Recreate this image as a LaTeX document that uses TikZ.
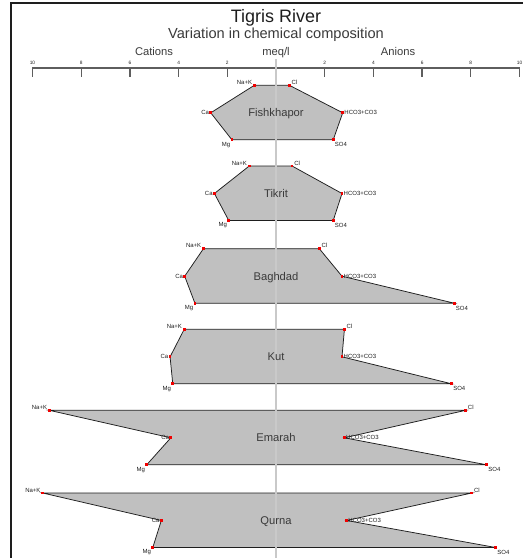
\documentclass[tikz,border=0pt]{standalone}
\usepackage{fontspec}
\setmainfont{Liberation Sans}
\usepackage{tikz}
\usetikzlibrary{calc}
\definecolor{ink}{HTML}{1E1E1E}
\definecolor{ink2}{HTML}{3A3A3A}
\definecolor{axisgray}{HTML}{5E5E5E}
\definecolor{midgray}{HTML}{C9C9C9}
\definecolor{polyfill}{HTML}{C0C0C0}
\definecolor{dotred}{HTML}{F00000}
\tikzset{
  every picture/.style={line width=0.5pt},
  frame/.style={draw=ink,line width=1.3pt},
  axisline/.style={draw=axisgray,line width=1.4pt},
  tickmark/.style={draw=axisgray,line width=1.3pt},
  ticklab/.style={font=\fontsize{4.8}{5}\selectfont,text=ink,inner sep=0pt},
  head/.style={anchor=base,font=\fontsize{11.2}{12}\selectfont,text=ink2,inner sep=0pt},
  midline/.style={draw=midgray,line width=1.2pt},
  poly/.style={draw=ink,fill=polyfill,line width=0.75pt,line join=miter},
  vtx/.style={rectangle,fill=dotred,minimum size=2.8pt,inner sep=0pt},
  ionlab/.style={font=\fontsize{6}{6}\selectfont,text=ink,inner sep=0pt},
  sitelab/.style={anchor=base,font=\fontsize{11.2}{12}\selectfont,text=ink2,inner sep=0pt},
}

\begin{document}
\begin{tikzpicture}[x=1pt,y=-1pt]
  \useasboundingbox (0,0) rectangle (523,558);
  % frame
  \coordinate (fbl) at (11,558);
  \coordinate (ftl) at (11,3);
  \coordinate (ftr) at (523,3);
  \draw[frame] (fbl) -- (ftl) -- (ftr);
  % titles
  \node[anchor=base,font=\fontsize{18}{19}\selectfont,text=ink,inner sep=0pt] (title) at (276,22.5) {Tigris River};
  \node[anchor=base,font=\fontsize{14.6}{15}\selectfont,text=ink2,inner sep=0pt] (subtitle) at (276,38) {Variation in chemical composition};
  \node[head] (cat) at (154,55.5) {Cations};
  \node[head] (unit) at (276,55.5) {meq/l};
  \node[head] (ani) at (398,55.5) {Anions};
  % axis
  \coordinate (axl) at (32.3,68);
  \coordinate (axr) at (519.7,68);
  \draw[axisline] (axl) -- (axr);
  \foreach \v/\t in {-10/10,-8/8,-6/6,-4/4,-2/2,2/2,4/4,6/6,8/8,10/10} {
    \coordinate (tk\v) at ({276+24.35*\v},68);
    \draw[tickmark] (tk\v) -- ++(0,9);
    \node[ticklab] (tl\v) at ({276+24.35*\v},62.5) {\t};
  }
  % stations
  \foreach \id/\site/\yt/\na/\cl/\ca/\hc/\mg/\so in {
      fk/Fishkhapor/85.3/0.89/0.55/2.68/2.74/1.81/2.35,
      tk/Tikrit/166/1.10/0.66/2.53/2.71/1.94/2.35,
      bg/Baghdad/248.7/2.98/1.78/3.75/2.71/3.33/7.32,
      kt/Kut/329.3/3.77/2.81/4.35/2.71/4.24/7.21,
      em/Emarah/410.3/9.31/7.79/4.32/2.81/5.31/8.65,
      qr/Qurna/493/9.58/8.04/4.71/2.90/5.06/9.02} {
    \pgfmathsetmacro{\ym}{\yt+27.5}
    \pgfmathsetmacro{\yb}{\yt+54.5}
    \coordinate (\id-na) at ({276-24.35*\na},\yt);
    \coordinate (\id-cl) at ({276+24.35*\cl},\yt);
    \coordinate (\id-ca) at ({276-24.35*\ca},\ym);
    \coordinate (\id-hc) at ({276+24.35*\hc},\ym);
    \coordinate (\id-mg) at ({276-24.35*\mg},\yb);
    \coordinate (\id-so) at ({276+24.35*\so},\yb);
    \draw[poly] (\id-na) -- (\id-cl) -- (\id-hc) -- (\id-so) -- (\id-mg) -- (\id-ca) -- cycle;
  }
  % centre line
  \coordinate (ctop) at (276,59);
  \coordinate (cbot) at (276,558);
  \draw[midline] (ctop) -- (cbot);
  % vertices and labels
  \foreach \id/\site/\yt in {fk/Fishkhapor/85.3,tk/Tikrit/166,bg/Baghdad/248.7,kt/Kut/329.3,em/Emarah/410.3,qr/Qurna/493} {
    \foreach \k in {na,cl,ca,hc,mg,so}
      \node[vtx] (\id-\k-dot) at (\id-\k) {};
    \node[ionlab,anchor=east] (\id-na-lab) at ($(\id-na)+(-2,-3)$) {Na+K};
    \node[ionlab,anchor=west] (\id-cl-lab) at ($(\id-cl)+(2,-3)$) {Cl};
    \node[ionlab,anchor=east] (\id-ca-lab) at ($(\id-ca)+(-1.5,0)$) {Ca};
    \node[ionlab,anchor=west] (\id-hc-lab) at ($(\id-hc)+(1.5,0)$) {HCO3+CO3};
    \node[ionlab,anchor=east] (\id-mg-lab) at ($(\id-mg)+(-1.5,5)$) {Mg};
    \node[ionlab,anchor=west] (\id-so-lab) at ($(\id-so)+(1.5,5)$) {SO4};
    \node[sitelab] (\id-name) at (276,{\yt+31.5}) {\site};
  }
\end{tikzpicture}
\end{document}
